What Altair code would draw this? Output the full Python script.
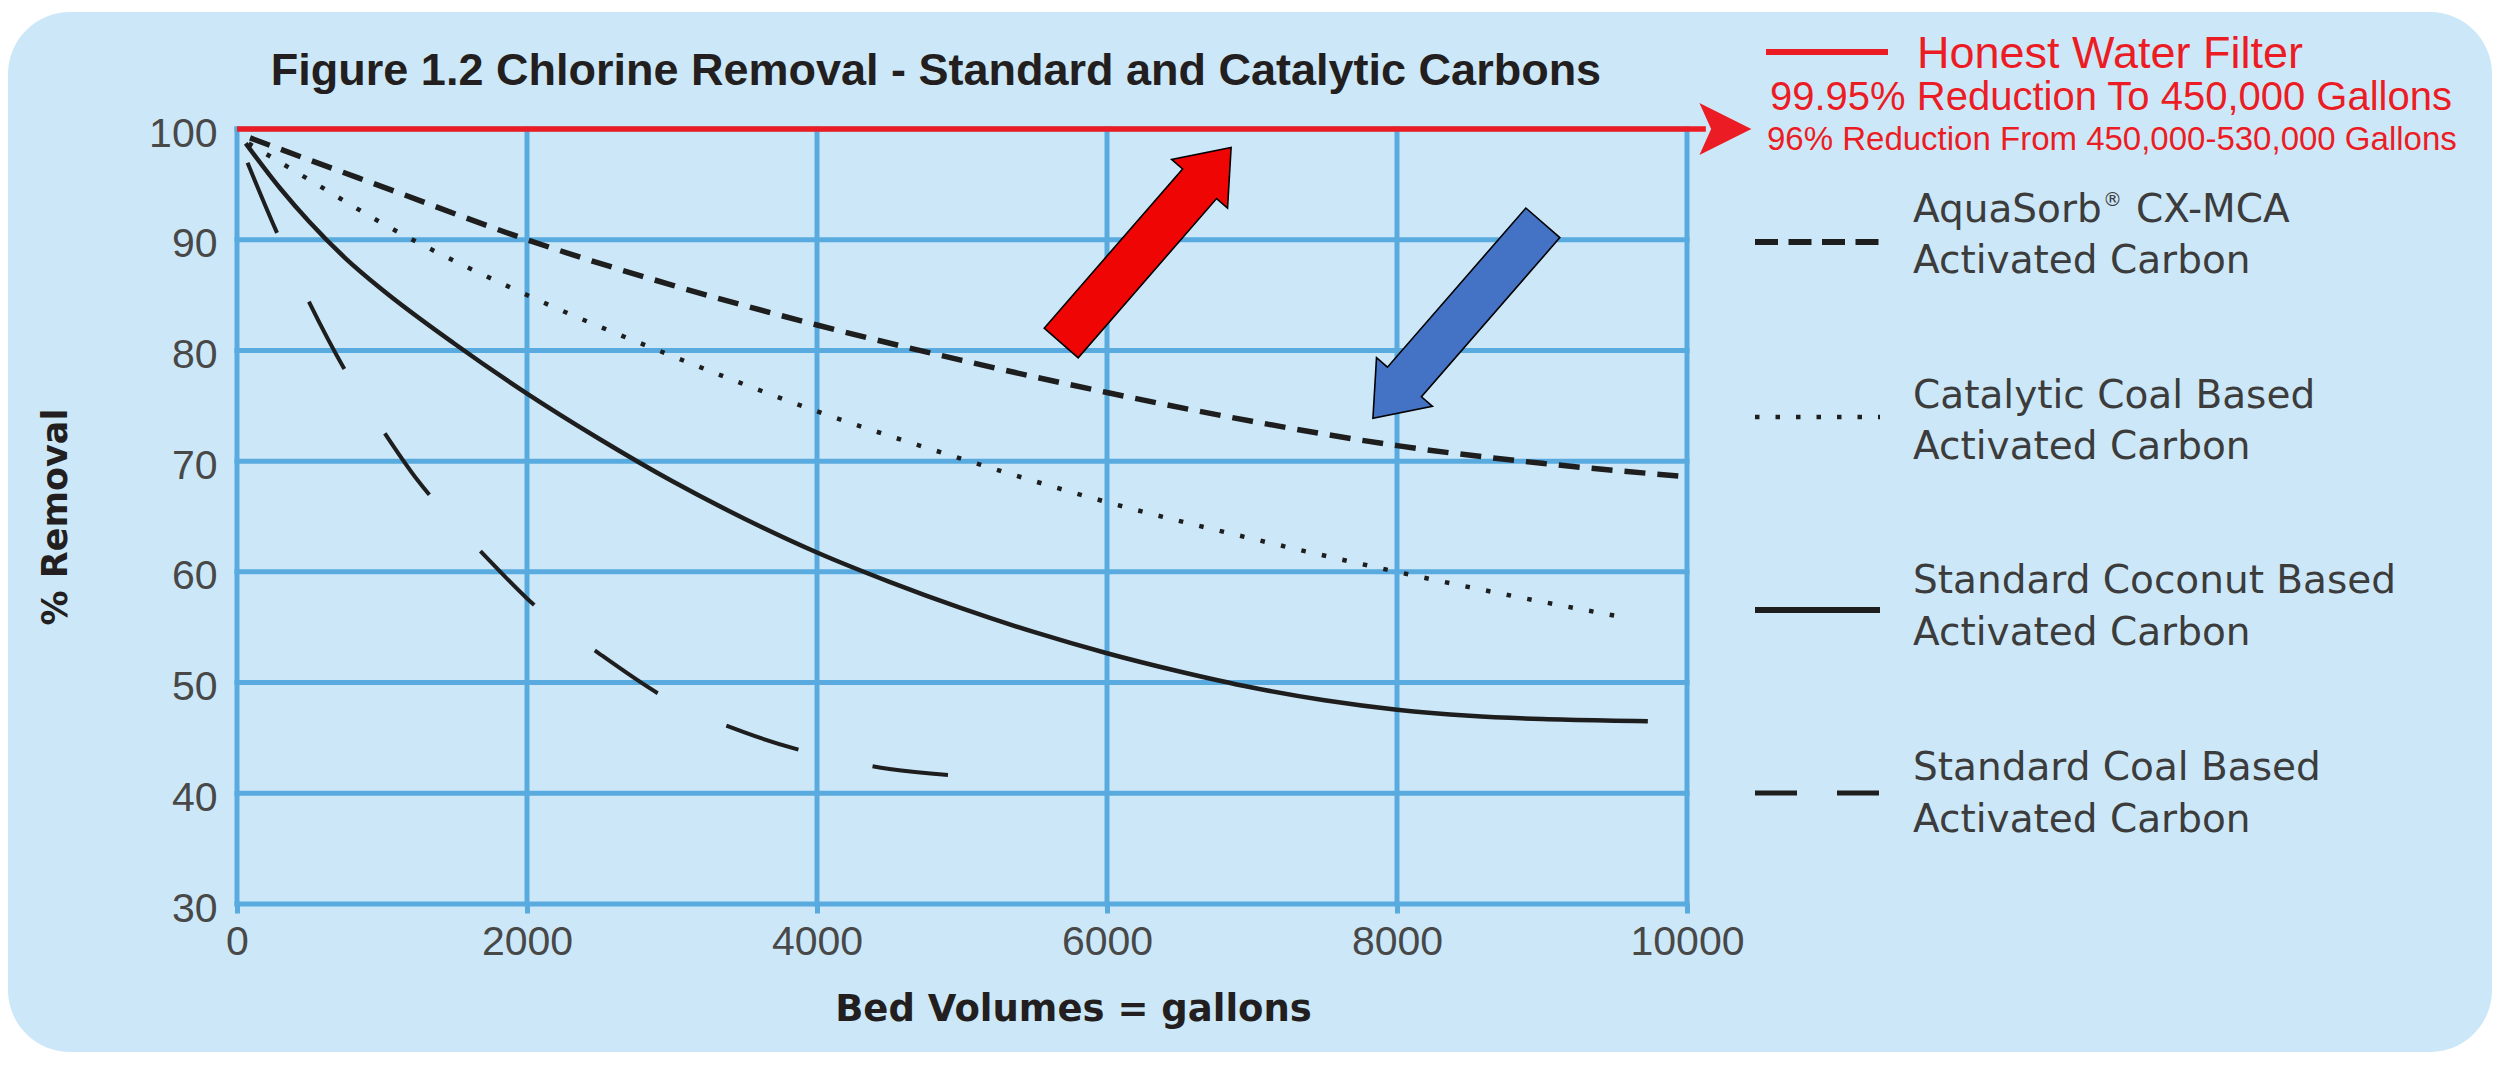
import altair as alt
import pandas as pd

# ------------------------------------------------------------------ data
x_ticks = [0, 2000, 4000, 6000, 8000, 10000]
y_ticks = [30, 40, 50, 60, 70, 80, 90, 100]

# AquaSorb CX-MCA (short dashes)
aqua_x = [90, 500, 1000, 2000, 3000, 4000, 5000, 6000, 7000, 8000, 9000, 10000]
aqua_y = [99.2, 97.2, 94.8, 90.0, 85.9, 82.3, 79.1, 76.2, 73.6, 71.4, 69.8, 68.6]

# Catalytic coal based (dotted)
cat_x = [80, 500, 1000, 2000, 3000, 4000, 5000, 6000, 7000, 8000, 9000, 9520]
cat_y = [98.7, 95.4, 91.5, 85.0, 79.5, 74.5, 70.2, 66.3, 63.0, 60.0, 57.3, 56.0]

# Standard coconut based (solid)
coco_x = [60, 300, 500, 750, 1000, 1500, 2000, 2500, 3000, 3500, 4000, 4500,
          5000, 5500, 6000, 6500, 7000, 7500, 8000, 8500, 9000, 9500, 9730]
coco_y = [98.7, 94.6, 91.6, 88.3, 85.5, 80.6, 76.1, 72.0, 68.2, 64.8, 61.75, 59.1,
          56.7, 54.55, 52.65, 51.0, 49.55, 48.4, 47.55, 47.0, 46.7, 46.55, 46.5]

# Standard coal based (long dashes)
coal_x = [0, 250, 500, 750, 1000, 1250, 1500, 1750, 2000, 2500, 3000, 3500, 4000, 4500, 4960]
coal_y = [99.3, 91.4, 84.3, 78.1, 72.9, 68.2, 64.4, 60.9, 57.6, 52.6, 48.3, 45.5, 43.5, 42.2, 41.6]

# Honest Water Filter (red line)
honest_x = [0, 10130]
honest_y = [100, 100]

title_text = "Figure 1.2 Chlorine Removal - Standard and Catalytic Carbons"
x_title = "Bed Volumes = gallons"
y_title = "% Removal"
honest_lines = ["Honest Water Filter",
                "99.95% Reduction To 450,000 Gallons",
                "96% Reduction From 450,000-530,000 Gallons"]
legend_labels = [["AquaSorb", "Activated Carbon"],
                 ["Catalytic Coal Based", "Activated Carbon"],
                 ["Standard Coconut Based", "Activated Carbon"],
                 ["Standard Coal Based", "Activated Carbon"]]
aqua_suffix = "CX-MCA"
reg_mark = "\u00ae"

# ------------------------------------------------------------------ layout / styles
W, H = 1450, 775          # plot area
OX, OY = 237, 129         # page position of plot origin
TOTAL_W, TOTAL_H = 2484, 1054
PAD = {"left": OX - 8, "top": OY - 8,
       "right": TOTAL_W - (OX - 8) - W, "bottom": TOTAL_H - (OY - 8) - H}

BG = "#CCE8F8"
GRID = "#58AADF"
INK = "#1E1E1E"
RED = "#EC1C24"
TICKC = "#484848"
LEGC = "#3C3C3C"
DARK = "#231F20"


def px(v):
    return v - OX


def py(v):
    return v - OY


one = pd.DataFrame({"k": [0]})

xscale = alt.Scale(domain=[0, 10000], nice=False, zero=False)
yscale = alt.Scale(domain=[30, 100], nice=False, zero=False)

xaxis = alt.Axis(values=x_ticks, format="d", grid=False, domain=False, ticks=True,
                 tickColor=GRID, tickSize=9, tickWidth=5, labelFlush=False,
                 labelFont="Liberation Sans", labelFontSize=41, labelColor=TICKC,
                 labelPadding=9, title=x_title, titleFont="DejaVu Sans",
                 titleFontSize=37, titleFontWeight="bold", titleColor=DARK,
                 titleX=836, titleY=116, titleAlign="center",
                 titleBaseline="alphabetic", zindex=1)
yaxis = alt.Axis(values=y_ticks, grid=False, domain=False, ticks=False,
                 labelFont="Liberation Sans", labelFontSize=41, labelColor=TICKC,
                 labelPadding=20, labelOffset=5, title=y_title,
                 titleFont="DejaVu Sans", titleFontSize=35, titleFontWeight="bold",
                 titleColor=DARK, titleX=-182, titleY=H / 2, titleAngle=270,
                 titleAlign="center", titleBaseline="middle", zindex=1)

xs = alt.X("x:Q", scale=xscale, axis=xaxis)
ys = alt.Y("y:Q", scale=yscale, axis=yaxis)

layers = []

# rounded light-blue panel
layers.append(alt.Chart(one).mark_rect(color=BG, cornerRadius=62).encode(
    x=alt.value(px(8)), x2=alt.value(px(2492)),
    y=alt.value(py(12)), y2=alt.value(py(1052))))

# grid
layers.append(alt.Chart(pd.DataFrame({"x": x_ticks})).mark_rule(
    color=GRID, strokeWidth=5, strokeCap="square").encode(
    x=xs, y=alt.value(0), y2=alt.value(H)))
layers.append(alt.Chart(pd.DataFrame({"y": y_ticks})).mark_rule(
    color=GRID, strokeWidth=5, strokeCap="square").encode(
    y=ys, x=alt.value(0), x2=alt.value(W)))


def curve(xv, yv, width, dash=None, offset=None, color=INK):
    mk = dict(color=color, strokeWidth=width, interpolate="monotone", strokeCap="butt")
    if dash:
        mk["strokeDash"] = dash
    if offset:
        mk["strokeDashOffset"] = offset
    return alt.Chart(pd.DataFrame({"x": xv, "y": yv})).mark_line(**mk).encode(x=xs, y=ys)


layers.append(curve(coal_x, coal_y, 4, [76, 76], 124))
layers.append(curve(coco_x, coco_y, 4.5))
layers.append(curve(cat_x, cat_y, 4.5, [4.5, 16.5]))
layers.append(curve(aqua_x, aqua_y, 5.5, [21, 12]))
layers.append(curve(honest_x, honest_y, 5.5, color=RED))

# arrowhead of the red line
HEAD = "M -1 -1 L 1 0 L -1 1 L -0.55 0 Z"
layers.append(alt.Chart(pd.DataFrame({"x": [10265], "y": [100]})).mark_point(
    shape=HEAD, filled=True, color=RED, size=2704, opacity=1, strokeWidth=0
).encode(x=xs, y=ys))

# block arrows
ARROW = ("M -1 -0.174 L 0.629 -0.174 L 0.629 -0.286 L 1 0 "
         "L 0.629 0.286 L 0.629 0.174 L -1 0.174 Z")
arrows = pd.DataFrame({"x": [6270, 8420], "y": [89.5, 82.7],
                       "angle": [311, 131], "fill": ["#F00505", "#4472C4"]})
layers.append(alt.Chart(arrows).mark_point(
    shape=ARROW, filled=True, size=67081, stroke="#000000", strokeWidth=1.6,
    opacity=1, fillOpacity=1
).encode(x=xs, y=ys, angle=alt.Angle("angle:Q", scale=None),
         fill=alt.Fill("fill:N", scale=None)))


def txt(s, x, y, size, font, color, weight="normal", align="left"):
    return alt.Chart(one).mark_text(
        align=align, baseline="alphabetic", font=font, fontSize=size,
        fontWeight=weight, color=color
    ).encode(x=alt.value(px(x)), y=alt.value(py(y)), text=alt.value(s))


def sym(y, width, color=INK, dash=None):
    mk = dict(color=color, strokeWidth=width)
    if dash:
        mk["strokeDash"] = dash
    return alt.Chart(one).mark_rule(**mk).encode(
        x=alt.value(px(1755)), x2=alt.value(px(1880)), y=alt.value(py(y)))


# title
layers.append(txt(title_text, 936, 85, 45, "Liberation Sans", DARK, "bold", "center"))

# red legend entry
layers.append(alt.Chart(one).mark_rule(color=RED, strokeWidth=6).encode(
    x=alt.value(px(1766)), x2=alt.value(px(1888)), y=alt.value(py(52))))
layers.append(txt(honest_lines[0], 1917, 68, 45, "Liberation Sans", RED))
layers.append(txt(honest_lines[1], 1770, 110, 40, "Liberation Sans", RED))
layers.append(txt(honest_lines[2], 1767, 150, 33, "Liberation Sans", RED))

# black legend entries
leg_sym = [(242, 6, [23, 10.5]), (417, 4.5, [4.5, 16]), (610, 6, None), (793, 5, [42, 40])]
leg_base = [(222, 273), (408, 459), (593, 645), (780, 832)]
for (sy, sw, sd), (b1, b2), (l1, l2) in zip(leg_sym, leg_base, legend_labels):
    layers.append(sym(sy, sw, dash=sd))
    layers.append(txt(l1, 1913, b1, 39, "DejaVu Sans", LEGC))
    layers.append(txt(l2, 1913, b2, 39, "DejaVu Sans", LEGC))
layers.append(txt(reg_mark, 2103, 206, 19, "DejaVu Sans", LEGC))
layers.append(txt(aqua_suffix, 2136, 222, 39, "DejaVu Sans", LEGC))

chart = alt.layer(*layers).properties(
    width=W, height=H, padding=PAD,
    autosize=alt.AutoSizeParams(type="none"), background="white"
).configure_view(stroke=None)

chart.save("out.html", embed_options={"renderer": "svg", "actions": False})
